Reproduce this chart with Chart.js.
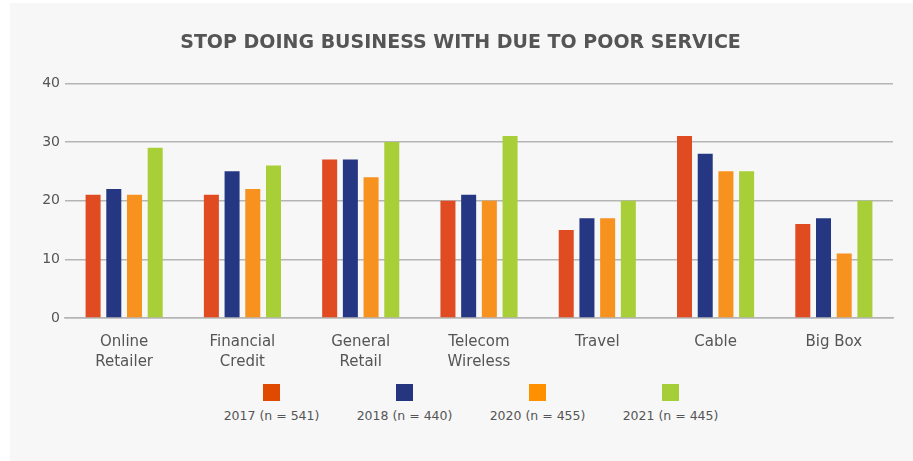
<!DOCTYPE html>
<html>
<head>
<meta charset="utf-8">
<script src="https://cdn.jsdelivr.net/npm/chart.js@4"></script>
<style>
  body { margin: 0; background: #fff; }
  #panel { position: absolute; left: 10px; top: 3px; width: 903px; height: 458px; background: #f7f7f7; }
  #wrap { position: absolute; left: 0; top: 0; width: 913px; height: 370px; }
  #legend { position: absolute; left: 205px; top: 384px; display: flex; font-family: "DejaVu Sans", sans-serif; font-size: 12.5px; color: #555; }
  .item { width: 133px; text-align: center; }
  .box { width: 17px; height: 17px; margin: 0 auto 7px auto; }
</style>
</head>
<body>
<div id="panel"></div>
<div id="wrap"><canvas id="myChart" width="913" height="370"></canvas></div>
<div id="legend"></div>
<script>
const categories = [['Online', 'Retailer'], ['Financial', 'Credit'], ['General', 'Retail'], ['Telecom', 'Wireless'], 'Travel', 'Cable', 'Big Box'];
const seriesNames = ['2017 (n = 541)', '2018 (n = 440)', '2020 (n = 455)', '2021 (n = 445)'];
const v2017 = [21, 21, 27, 20, 15, 31, 16];
const v2018 = [22, 25, 27, 21, 17, 28, 17];
const v2020 = [21, 22, 24, 20, 17, 25, 11];
const v2021 = [29, 26, 30, 31, 20, 25, 20];
const yTicks = [0, 10, 20, 30, 40];

const barColors = ['#e04b22', '#253782', '#f7921e', '#a8cf38'];
const legendColors = ['#e04a00', '#253580', '#ff9100', '#a6ce39'];
const values = [v2017, v2018, v2020, v2021];

const myChart = new Chart(document.getElementById('myChart'), {
    type: 'bar',
    data: {
        labels: categories,
        datasets: values.map((d, i) => ({
            label: seriesNames[i],
            data: d,
            backgroundColor: barColors[i],
            barPercentage: 0.725,
            categoryPercentage: 0.7
        }))
    },
    options: {
        responsive: false,
        animation: false,
        layout: { padding: { left: 28, right: 20 } },
        plugins: {
            legend: { display: false },
            tooltip: { enabled: false },
            title: {
                display: true,
                text: 'STOP DOING BUSINESS WITH DUE TO POOR SERVICE',
                color: '#555',
                font: { family: 'DejaVu Sans', size: 19, weight: 'bold' },
                padding: { top: 32, bottom: 28.5 }
            }
        },
        scales: {
            x: {
                grid: { display: false, drawTicks: false },
                border: { color: '#b5b5b5', width: 1.5 },
                ticks: { color: '#555', font: { family: 'DejaVu Sans', size: 15, lineHeight: 1.36 }, padding: 14, maxRotation: 0 },
                afterFit: s => { s.height = 52 }
            },
            y: {
                min: 0,
                max: 40,
                afterBuildTicks: s => { s.ticks = yTicks.map(v => ({ value: v })) },
                grid: { color: '#b5b5b5', lineWidth: 1.5, drawTicks: false },
                border: { display: false },
                ticks: { color: '#555', font: { family: 'DejaVu Sans', size: 14 }, padding: 5 },
                afterFit: s => { s.width = 37 }
            }
        }
    }
});

// legend: box above the label
const legendEl = document.getElementById('legend');
seriesNames.forEach((name, i) => {
    legendEl.innerHTML += '<div class="item"><div class="box" style="background:' + legendColors[i] + '"></div>' + name + '</div>';
});
</script>
</body>
</html>
